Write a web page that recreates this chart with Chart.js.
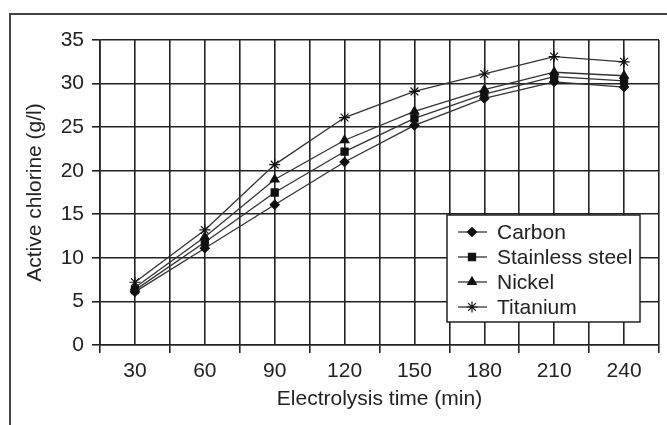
<!DOCTYPE html>
<html>
<head>
<meta charset="utf-8">
<script src="https://cdn.jsdelivr.net/npm/chart.js@4.4.0/dist/chart.umd.min.js"></script>
<style>
  html, body { margin: 0; padding: 0; background: #fff; }
  #wrap { position: relative; width: 667px; height: 425px; }
</style>
</head>
<body>
<div id="wrap"><canvas id="chart"></canvas></div>
<script>
// ─── Data ────────────────────────────────────────────────────
const TIMES     = [30, 60, 90, 120, 150, 180, 210, 240];   // min
const CARBON    = [6.1, 11.1, 16.1, 21.0, 25.2, 28.3, 30.2, 29.6];
const STAINLESS = [6.3, 11.8, 17.5, 22.2, 26.0, 28.8, 30.8, 30.3];
const NICKEL    = [6.6, 12.4, 19.0, 23.5, 26.8, 29.3, 31.3, 30.9];
const TITANIUM  = [7.2, 13.2, 20.7, 26.1, 29.1, 31.1, 33.1, 32.5];
const NAMES     = ['Carbon', 'Stainless steel', 'Nickel', 'Titanium'];

const INK  = '#222';
const FONT = { family: '"Liberation Sans", Arial, Helvetica, sans-serif', size: 21 };

const MARKERS = [
  { pointStyle: 'rectRot',  radius: 4.5 },
  { pointStyle: 'rect',     radius: 5 },
  { pointStyle: 'triangle', radius: 5 },
  { pointStyle: 'star',     radius: 5.5 },
];

function series(i, values) {
  return {
    label: NAMES[i],
    data: values,
    borderColor: '#333',
    borderWidth: 1.3,
    pointStyle: MARKERS[i].pointStyle,
    pointRadius: MARKERS[i].radius,
    pointBackgroundColor: '#111',
    pointBorderColor: '#111',
    pointBorderWidth: 1.2,
    tension: 0,
  };
}

// ─── Plugins: outer frame + boxed legend inside the plot ─────
const framePlugin = {
  id: 'frame',
  beforeDraw(chart) {
    const ctx = chart.ctx;
    ctx.save();
    ctx.fillStyle = '#fff';
    ctx.fillRect(0, 0, chart.width, chart.height);
    ctx.strokeStyle = '#444';
    ctx.lineWidth = 2;
    ctx.beginPath();
    ctx.moveTo(10, chart.height);
    ctx.lineTo(10, 14);
    ctx.lineTo(chart.width, 14);
    ctx.stroke();
    ctx.restore();
  },
};

const boxLegend = {
  id: 'boxLegend',
  afterDatasetsDraw(chart) {
    const ctx = chart.ctx;
    const x0 = 447, y0 = 215, w = 193, h = 107;
    ctx.save();
    ctx.fillStyle = '#fff';
    ctx.fillRect(x0, y0, w, h);
    ctx.strokeStyle = INK;
    ctx.lineWidth = 1.5;
    ctx.strokeRect(x0, y0, w, h);
    ctx.font = `${FONT.size}px ${FONT.family}`;
    ctx.textBaseline = 'middle';
    chart.data.datasets.forEach((ds, i) => {
      const y = y0 + 17 + i * 25;
      ctx.strokeStyle = '#333';
      ctx.lineWidth = 1.3;
      ctx.beginPath();
      ctx.moveTo(x0 + 11, y);
      ctx.lineTo(x0 + 40, y);
      ctx.stroke();
      ctx.fillStyle = '#111';
      ctx.strokeStyle = '#111';
      ctx.lineWidth = 1.2;
      Chart.helpers.drawPoint(ctx, { pointStyle: ds.pointStyle, radius: ds.pointRadius, rotation: 0, borderWidth: 1.2 }, x0 + 25, y);
      ctx.fillStyle = INK;
      ctx.fillText(ds.label, x0 + 50, y + 1);
    });
    ctx.restore();
  },
};

// ─── Chart ───────────────────────────────────────────────────
new Chart(document.getElementById('chart'), {
  type: 'line',
  data: {
    labels: TIMES,
    datasets: [
      series(0, CARBON),
      series(1, STAINLESS),
      series(2, NICKEL),
      series(3, TITANIUM),
    ],
  },
  options: {
    responsive: true,
    maintainAspectRatio: false,
    animation: false,
    devicePixelRatio: 1,
    layout: { padding: { left: 0, top: 40, right: 8, bottom: 0 } },
    plugins: { legend: { display: false }, tooltip: { enabled: false } },
    scales: {
      x: {
        type: 'linear',
        min: 15, max: 255,
        afterFit: (s) => { s.height = 80; },
        ticks: {
          stepSize: 15, autoSkip: false, maxRotation: 0, padding: 6,
          color: INK, font: FONT,
          callback: (v) => (v % 30 === 0 ? v : ''),
        },
        grid: {
          color: INK, lineWidth: 1.6, tickLength: 8,
          tickColor: (c) => (c.tick && c.tick.value % 30 === 0 ? 'rgba(0,0,0,0)' : INK),
        },
        border: { color: INK, width: 1.6 },
        title: {
          display: true, text: 'Electrolysis time (min)', color: INK, font: FONT,
          padding: { top: 0, bottom: 13 },
        },
      },
      y: {
        min: 0, max: 35,
        afterFit: (s) => { s.width = 100; },
        ticks: { stepSize: 5, padding: 8, color: INK, font: FONT },
        grid: { color: INK, lineWidth: 1.6, tickLength: 8, tickColor: INK },
        border: { color: INK, width: 1.6 },
        title: {
          display: true, text: 'Active chlorine (g/l)', color: INK, font: FONT,
          padding: { top: 23, bottom: 0 },
        },
      },
    },
  },
  plugins: [framePlugin, boxLegend],
});
</script>
</body>
</html>
